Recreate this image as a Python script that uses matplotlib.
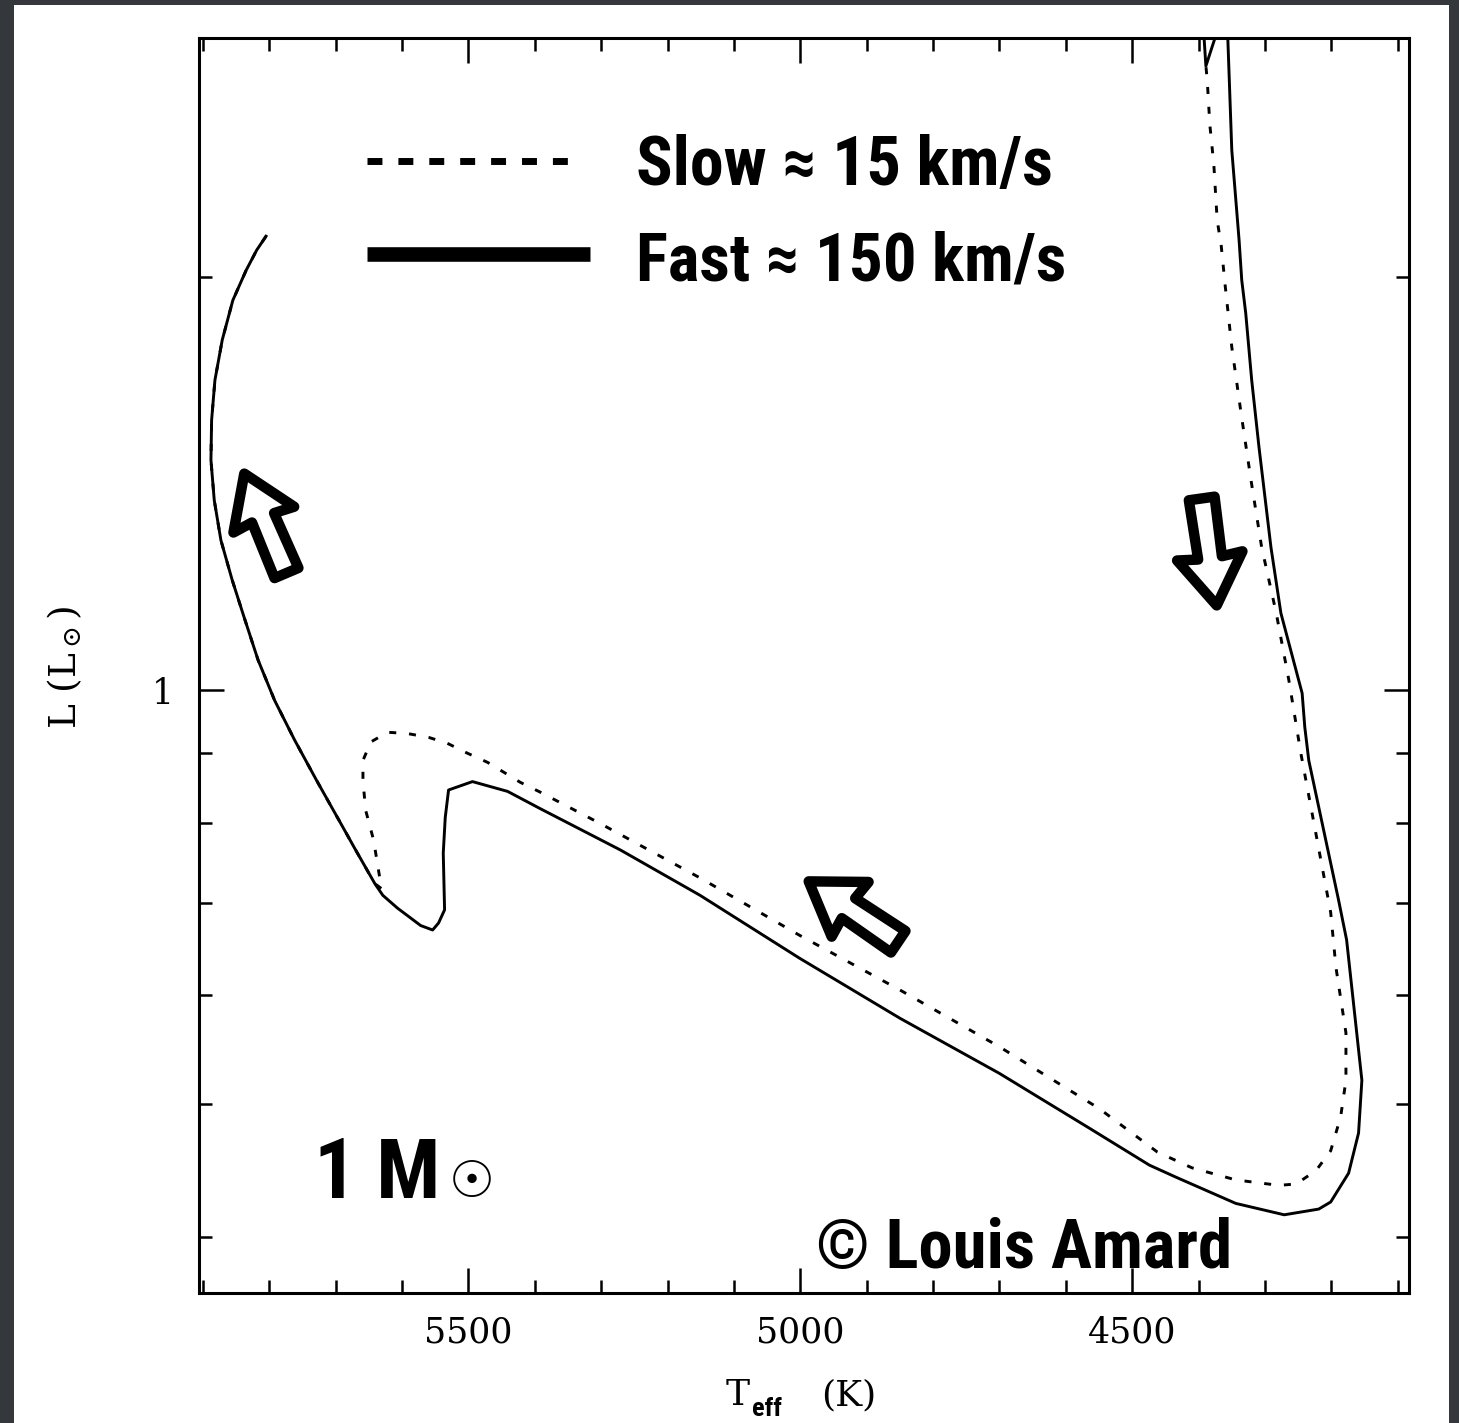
import matplotlib
matplotlib.use("Agg")
import matplotlib.pyplot as plt
import matplotlib.transforms as mtransforms
from matplotlib import font_manager
from matplotlib.patches import Rectangle, Polygon
from matplotlib.lines import Line2D
from matplotlib.ticker import FixedLocator, NullFormatter

# ---------------------------------------------------------------------------
# Evolutionary tracks of a 1 Msun star (Teff in K, L in Lsun)
# ---------------------------------------------------------------------------
# pre-main-sequence contraction, common to both rotation rates
pms_teff = [5805, 5819, 5835, 5855, 5871, 5882, 5887, 5888, 5883, 5873, 5856,
            5838, 5817, 5792, 5762, 5729, 5695, 5670, 5641]
pms_lum = [2.141, 2.092, 2.022, 1.923, 1.799, 1.682, 1.573, 1.471, 1.375,
           1.286, 1.203, 1.130, 1.052, 0.983, 0.920, 0.860, 0.804, 0.765,
           0.723]

# fast rotator (~150 km/s)
fast_teff = [5629, 5607, 5572, 5554, 5545, 5536, 5538, 5535, 5530, 5494, 5441,
             5392, 5271, 5151, 5001, 4850, 4700, 4565, 4474, 4434, 4344, 4271,
             4219, 4201, 4174, 4159, 4154, 4177, 4189, 4234, 4240, 4244, 4276,
             4291, 4309, 4320, 4329, 4335, 4339, 4350, 4356, 4357]
fast_lum = [0.709, 0.694, 0.674, 0.669, 0.677, 0.692, 0.761, 0.808, 0.846,
            0.858, 0.844, 0.820, 0.765, 0.709, 0.638, 0.577, 0.526, 0.480,
            0.451, 0.442, 0.423, 0.415, 0.419, 0.424, 0.445, 0.476, 0.520,
            0.658, 0.703, 0.889, 0.940, 0.995, 1.138, 1.271, 1.503, 1.682,
            1.882, 1.989, 2.127, 2.474, 2.985, 3.076]

# slow rotator (~15 km/s)
slow_teff = [5631, 5643, 5655, 5659, 5659, 5647, 5622, 5592, 5560, 5532, 5502,
             5471, 5422, 5392, 5302, 5151, 5001, 4850, 4700, 4550, 4462, 4410,
             4344, 4279, 4253, 4223, 4201, 4186, 4178, 4178, 4193, 4201, 4246,
             4264, 4283, 4305, 4321, 4336, 4350, 4360, 4366, 4372, 4377, 4383,
             4387, 4389]
slow_lum = [0.717, 0.778, 0.818, 0.860, 0.889, 0.917, 0.932, 0.930, 0.924,
            0.915, 0.900, 0.886, 0.857, 0.843, 0.800, 0.730, 0.663, 0.605,
            0.550, 0.496, 0.461, 0.449, 0.440, 0.436, 0.437, 0.447, 0.462,
            0.489, 0.520, 0.563, 0.628, 0.689, 0.900, 1.017, 1.138, 1.271,
            1.422, 1.591, 1.778, 1.972, 2.109, 2.199, 2.412, 2.579, 2.782,
            2.848]
# hook of the slow track leaving the top of the diagram
slow_hook_teff = [4393, 4389, 4369]
slow_hook_lum = [3.05, 2.848, 3.05]

# axis ranges and ticks
teff_range = (5906, 4083)
lum_range = (0.364, 2.985)
teff_major = [5500, 5000, 4500]
teff_minor = list(range(4100, 6000, 100))
lum_major = [1]
lum_minor = [0.4, 0.5, 0.6, 0.7, 0.8, 0.9, 2]

# direction-of-evolution arrows: (Teff, L, angle in degrees)
arrows = [(5806, 1.323, 113), (4384, 1.261, -82), (4920, 0.690, 146)]

legend_labels = ["Slow \u2248 15 km/s", "Fast \u2248 150 km/s"]

# ---------------------------------------------------------------------------
W, H = 1459, 1423
plt.rcParams["font.family"] = "DejaVu Serif"
plt.rcParams["mathtext.fontset"] = "dejavuserif"


def first_available(names):
    for n in names:
        try:
            font_manager.findfont(
                font_manager.FontProperties(family=n, weight="bold"),
                fallback_to_default=False)
            return n
        except ValueError:
            continue
    return "DejaVu Sans"


cond_font = first_available(["Liberation Sans Narrow", "Roboto Condensed",
                             "DejaVu Sans Condensed", "Roboto",
                             "Liberation Sans"])
cond = [cond_font, "DejaVu Sans"]

fig = plt.figure(figsize=(W / 100, H / 100), dpi=100)
fig.patch.set_facecolor("#34373b")
fig.add_artist(Rectangle((14 / W, 0), (1449 - 14) / W, 1 - 5 / H,
                         transform=fig.transFigure, facecolor="white",
                         edgecolor="none", zorder=0))


def fx(px):
    return px / W


def fy(py):
    return 1 - py / H


ax = fig.add_axes([fx(199), fy(1293), 1210 / W, 1255 / H])
ax.set_yscale("log")
ax.set_xlim(*teff_range)
ax.set_ylim(*lum_range)

line_kw = dict(color="black", lw=2.1, solid_joinstyle="round")
ax.plot(pms_teff + fast_teff, pms_lum + fast_lum, **line_kw)
ax.plot(pms_teff + slow_teff, pms_lum + slow_lum, color="black", lw=2.1,
        linestyle=(0, (2.4, 4.4)))
ax.plot(slow_hook_teff, slow_hook_lum, **line_kw)

# ticks
ax.xaxis.set_major_locator(FixedLocator(teff_major))
ax.xaxis.set_minor_locator(FixedLocator(teff_minor))
ax.set_xticklabels([str(t) for t in teff_major])
ax.yaxis.set_major_locator(FixedLocator(lum_major))
ax.yaxis.set_minor_locator(FixedLocator(lum_minor))
ax.set_yticklabels([str(v) for v in lum_major])
ax.yaxis.set_minor_formatter(NullFormatter())
ax.tick_params(which="both", direction="in", top=True, right=True,
               width=1.8, labelsize=25, colors="black")
ax.tick_params(which="major", length=18)
ax.tick_params(which="minor", length=9.5)
ax.tick_params(axis="x", which="major", pad=16)
ax.tick_params(axis="y", which="major", pad=18)
for s in ax.spines.values():
    s.set_linewidth(2.2)

# axis labels
ax.set_ylabel(r"L (L$_\odot$)", fontsize=27)
ax.yaxis.set_label_coords((84 - 199) / 1210, (1293 - 667) / 1255)
fig.text(fx(726), fy(1405), "T", fontsize=26, ha="left", va="baseline")
fig.text(fx(752), fy(1416), "eff", fontsize=19, ha="left", va="baseline",
         family=cond, fontweight="bold")
fig.text(fx(821), fy(1405), "(K)", fontsize=26, ha="left", va="baseline")


def ax_x(px):
    return (px - 199) / 1210


def ax_y(py):
    return (1293 - py) / 1255


# legend samples
ax.add_line(Line2D([ax_x(367), ax_x(571)], [ax_y(161), ax_y(161)],
                   transform=ax.transAxes, color="black", lw=5,
                   linestyle=(0, (2.15, 2.3)), solid_capstyle="butt"))
ax.add_line(Line2D([ax_x(367), ax_x(590)], [ax_y(254), ax_y(254)],
                   transform=ax.transAxes, color="black", lw=10.5,
                   solid_capstyle="butt"))

# bold annotations: (text, left px, baseline px, size, width px)
bold_texts = [
    (legend_labels[0], 636, 185, 49, 416),
    (legend_labels[1], 636, 280, 49, 429),
    ("1 M", 314, 1198, 65, 126),
    ("\u00a9 Louis Amard", 816, 1268, 51, 416),
]
renderer = fig.canvas.get_renderer()
for txt, x0, y0, size, width in bold_texts:
    t = ax.text(ax_x(x0), ax_y(y0), txt, transform=ax.transAxes,
                fontsize=size, fontweight="bold", family=cond, ha="left",
                va="baseline")
    w = t.get_window_extent(renderer).width
    if w > width:
        t.set_fontsize(size * width / w)

ax.text(ax_x(472), ax_y(1183), "\u2609", transform=ax.transAxes, fontsize=37,
        family="DejaVu Sans", fontweight="bold", ha="center", va="center")

# hand-drawn style arrows, template points along +x (pixels)
arrow_shape = [(-54, -13), (6, -12), (4, -33), (54, 0), (4, 33), (6, 12),
               (-54, 13)]
for t, l, ang in arrows:
    cx, cy = ax.transData.transform((t, l))
    tr = mtransforms.Affine2D().rotate_deg(ang).translate(cx, cy)
    p = Polygon(arrow_shape, closed=True, fill=False, edgecolor="black",
                lw=7.5, joinstyle="round", transform=tr, clip_on=False)
    ax.add_patch(p)

fig.savefig("out.png", dpi=100, facecolor=fig.get_facecolor())
